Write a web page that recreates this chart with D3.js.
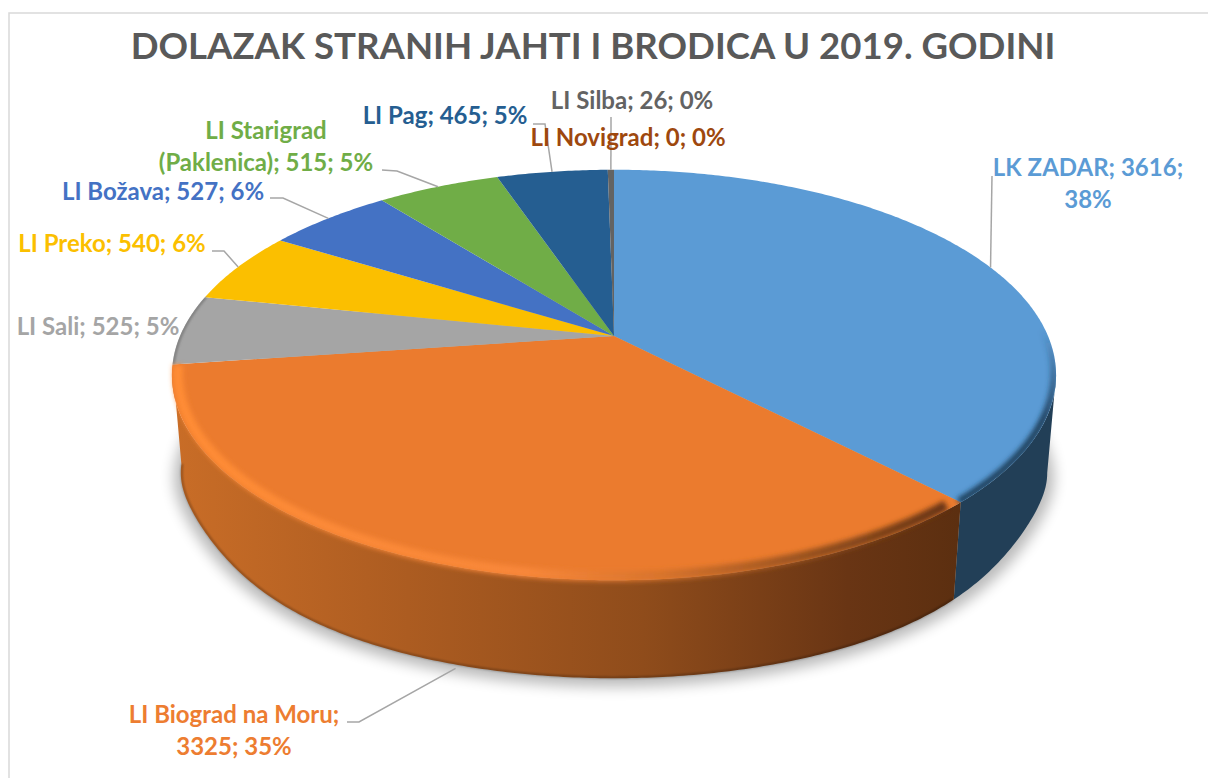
<!DOCTYPE html>
<html>
<head>
<meta charset="utf-8">
<title>Dolazak stranih jahti i brodica</title>
<script src="https://cdn.jsdelivr.net/npm/d3@7"></script>
<style>
  body { margin: 0; background: #fff; }
  svg { display: block; }
  text { font-family: Lato, "Open Sans", sans-serif; font-weight: 700; }
</style>
</head>
<body>
<script>
//------------------------------------------- Data ---------------------------------------------//
var titleText = "DOLAZAK STRANIH JAHTI I BRODICA U 2019. GODINI";
var names = ["LK ZADAR", "LI Biograd na Moru", "LI Sali", "LI Preko", "LI Božava",
  "LI Starigrad (Paklenica)", "LI Pag", "LI Silba", "LI Novigrad"];
var values = [3616, 3325, 525, 540, 527, 515, 465, 26, 0];
var percents = [38, 35, 5, 6, 6, 5, 5, 0, 0];
var colors = ["#5b9bd5", "#eb7b2e", "#a5a5a5", "#fbbf00", "#4472c4", "#70ad47", "#255e91", "#636363", "#9e480e"];
var labelColors = ["#5b9bd5", "#ed7d31", "#a5a5a5", "#fbbf00", "#4472c4", "#70ad47", "#255e91", "#636363", "#9e480e"];

// label layout: text lines, centre x, first baseline, elbow of the leader line
var labelLines = [
  ["LK ZADAR; 3616;", "38%"],
  ["LI Biograd na Moru;", "3325; 35%"],
  ["LI Sali; 525; 5%"],
  ["LI Preko; 540; 6%"],
  ["LI Božava; 527; 6%"],
  ["LI Starigrad", "(Paklenica); 515; 5%"],
  ["LI Pag; 465; 5%"],
  ["LI Silba; 26; 0%"],
  ["LI Novigrad; 0; 0%"]
];
var labelX = [1088, 234, 98, 112, 163, 266, 445, 632, 628];
var labelY = [176, 723, 335, 252, 200, 139, 124, 109, 146];
var elbows = [
  [[992, 176]],
  [[347, 722], [359, 722]],
  null,
  [[212, 251], [224, 251]],
  [[270, 198], [283, 198]],
  [[382, 170], [397, 171]],
  [[533, 124], [545, 124]],
  [[611, 117]],
  null
];

//------------------------------------------- Setup --------------------------------------------//
var width = 1208,
  height = 778;

var svg = d3.select("body").append("svg")
  .attr("width", width)
  .attr("height", height);

var defs = svg.append("defs");

function blur(id, sd) {
  defs.append("filter").attr("id", id)
    .attr("x", "-10%").attr("y", "-10%").attr("width", "120%").attr("height", "120%")
    .append("feGaussianBlur").attr("stdDeviation", sd);
}
blur("blurShadow", 7);
blur("blurRim", 2.4);
blur("blurEdge", 1);

// the pie lies in perspective, so the apex is not in the middle of the ellipse
var cx = 614,
  kx = 434,
  persp = -0.19,
  ya = 134,
  yb = 336;

function project(angle, r) {
  var u = r * Math.sin(angle),
    v = -r * Math.cos(angle),
    w = 1 + persp * v;
  return [cx + (kx * u) / w, (ya * v + yb) / w];
}

// wall height seen from the front, the outline of the foot is a bit squarish
var wallDepth = d3.interpolateBasis([102, 100, 90, 88, 96, 100, 98]);

// same point on the underside of the pie
function projectBottom(angle, r) {
  var p = project(angle, r),
    v = -Math.cos(angle);
  return [cx + (p[0] - cx) * 0.98, p[1] + wallDepth(Math.max(0, Math.min(1, v)))];
}

var line = d3.line();

function arcPoints(a0, a1, r, fn) {
  var n = Math.max(2, Math.ceil(Math.abs(a1 - a0) / 0.01));
  return d3.range(n + 1).map(function (i) {
    return fn(a0 + ((a1 - a0) * i) / n, r);
  });
}

var pie = d3.pie().sort(null).value(function (d) { return d; });
var arcs = pie(values);
var tau = Math.PI * 2;

function gradient(id, x1, y1, x2, y2, stops) {
  var g = defs.append("linearGradient").attr("id", id)
    .attr("gradientUnits", "userSpaceOnUse")
    .attr("x1", x1).attr("y1", y1).attr("x2", x2).attr("y2", y2);
  stops.forEach(function (s) {
    g.append("stop").attr("offset", s[0]).attr("stop-color", s[1]).attr("stop-opacity", s[2] === undefined ? 1 : s[2]);
  });
}

gradient("wallOrange", 172, 0, 958, 0, [
  [0, "#c96d27"], [0.3, "#ac5c21"], [0.6, "#8f4c1b"], [0.86, "#693514"], [1, "#5c2f10"]
]);
gradient("rimOrange", 172, 0, 958, 0, [
  [0, "#ff8c35"], [0.45, "#f8873a"], [0.62, "#d8742c"], [0.85, "#8a4a1c"], [1, "#643211"]
]);
gradient("rimBlue", 0, 330, 0, 420, [
  [0, "#1f3f5c", 0], [1, "#1f3f5c", 1]
]);

defs.append("clipPath").attr("id", "topClip").append("path")
  .attr("d", line(arcPoints(0, tau, 1, project)) + "Z");

// chart frame, cropped by the screenshot on the right and at the bottom
svg.append("path")
  .attr("d", line([[9, height], [9, 13], [width, 13]]))
  .attr("fill", "none")
  .attr("stroke", "#d9d9d9")
  .attr("stroke-width", 1.5);

//------------------------------------------- Shadow -------------------------------------------//
svg.append("path")
  .attr("d", line(arcPoints(0, tau, 1.015, projectBottom)) + "Z")
  .attr("transform", "translate(0,4)")
  .attr("fill", "#000")
  .attr("opacity", 0.27)
  .attr("filter", "url(#blurShadow)");

//------------------------------------------- Walls --------------------------------------------//
function wallPath(a0, a1) {
  var top = arcPoints(a0, a1, 1, project),
    bottom = arcPoints(a1, a0, 1, projectBottom);
  return line(top.concat(bottom)) + "Z";
}

// the wall starts where the rim is furthest to the right
var wallStart = Math.acos(persp);
svg.append("path")
  .attr("d", wallPath(wallStart, arcs[0].endAngle))
  .attr("fill", "#223f57");
svg.append("path")
  .attr("d", wallPath(arcs[1].startAngle, arcs[1].endAngle))
  .attr("fill", "url(#wallOrange)");

// darker line along the foot of the wall
svg.append("path")
  .attr("d", line(arcPoints(arcs[1].startAngle, arcs[1].endAngle, 0.998, projectBottom)))
  .attr("fill", "none")
  .attr("stroke", "#000")
  .attr("stroke-opacity", 0.3)
  .attr("stroke-width", 2)
  .attr("filter", "url(#blurEdge)");

//------------------------------------------- Slices -------------------------------------------//
svg.append("g").selectAll("path")
  .data(arcs)
  .enter()
  .append("path")
  .attr("d", function (d) {
    var pts = [project(0, 0)].concat(arcPoints(d.startAngle, d.endAngle, 1, project));
    return line(pts) + "Z";
  })
  .attr("fill", function (d, i) { return colors[i]; });

// bevel along the front of the top face
var rim = svg.append("g").attr("clip-path", "url(#topClip)");
rim.append("path")
  .attr("d", line(arcPoints(Math.PI * 0.25, arcs[0].endAngle, 0.995, project)))
  .attr("fill", "none")
  .attr("stroke", "url(#rimBlue)")
  .attr("stroke-width", 7)
  .attr("filter", "url(#blurRim)");
rim.append("path")
  .attr("d", line(arcPoints(arcs[2].startAngle, arcs[2].endAngle, 0.998, project)))
  .attr("fill", "none")
  .attr("stroke", "#808080")
  .attr("stroke-width", 3)
  .attr("filter", "url(#blurEdge)");

svg.append("path")
  .attr("d", line(arcPoints(arcs[1].startAngle + 0.03, arcs[1].endAngle - 0.004, 0.987, project)))
  .attr("fill", "none")
  .attr("stroke", "url(#rimOrange)")
  .attr("stroke-width", 10)
  .attr("filter", "url(#blurRim)");

//------------------------------------------- Leaders ------------------------------------------//
svg.append("g").selectAll("path")
  .data(arcs.filter(function (d, i) { return elbows[i]; }))
  .enter()
  .append("path")
  .attr("d", function (d) {
    var mid = (d.startAngle + d.endAngle) / 2;
    // Biograd's leader runs to the foot of the wall, the rest to the rim
    var end = d.index === 1 ? projectBottom(mid - 0.03, 1.012) : project(mid, 1);
    return line(elbows[d.index].concat([end]));
  })
  .attr("fill", "none")
  .attr("stroke", "#a6a6a6")
  .attr("stroke-width", 1.5);

//------------------------------------------- Labels -------------------------------------------//
var labels = svg.append("g").selectAll("text")
  .data(names)
  .enter()
  .append("text")
  .attr("text-anchor", "middle")
  .attr("font-size", 24)
  .attr("fill", function (d, i) { return labelColors[i]; })
  .attr("y", function (d, i) { return labelY[i]; });

labels.selectAll("tspan")
  .data(function (d, i) {
    return labelLines[i].map(function (t) { return { text: t, x: labelX[i] }; });
  })
  .enter()
  .append("tspan")
  .attr("x", function (d) { return d.x; })
  .attr("dy", function (d, i) { return i === 0 ? 0 : 32; })
  .text(function (d) { return d.text; });

svg.append("text")
  .attr("x", 593)
  .attr("y", 58.5)
  .attr("text-anchor", "middle")
  .attr("font-size", 36.6)
  .attr("fill", "#595959")
  .text(titleText);
</script>
</body>
</html>
